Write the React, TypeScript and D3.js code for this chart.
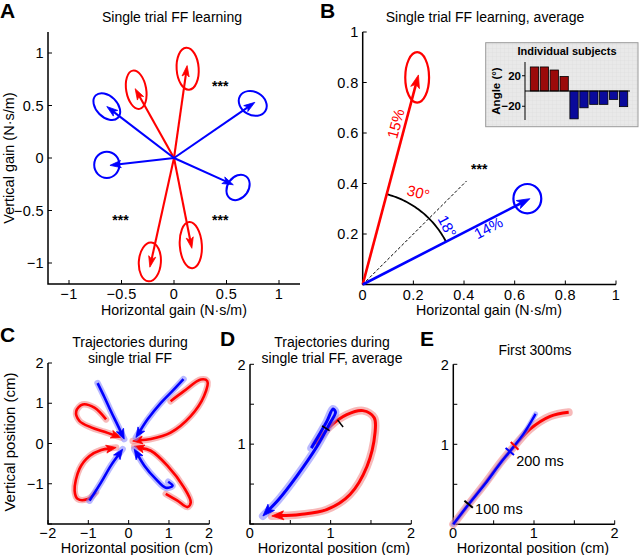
import React from 'react';
import * as d3 from 'd3';

type Pt = [number, number];

const RED = '#ff0000';
const BLUE = '#0000ff';
const RED_HALO = '#f08080';
const BLUE_HALO = '#8080ff';
const FONT = "'Liberation Sans', Arial, Helvetica, sans-serif";

// ---------------- Panel A: single trial FF learning ----------------
const aTicks = [-1, -0.5, 0, 0.5, 1];
const aRedTips: Pt[] = [[0.125, 0.88], [-0.37, 0.66], [-0.23, -1.04], [0.17, -0.86]];
const aRedCenters: Pt[] = [[0.13, 0.85], [-0.36, 0.65], [-0.23, -0.99], [0.16, -0.83]];
const aRedRadii: Pt[] = [[0.105, 0.2], [0.095, 0.185], [0.105, 0.185], [0.105, 0.22]];
const aRedAngles = [-4, -10, 4, -4];
const aBlueTips: Pt[] = [[0.77, 0.53], [-0.64, 0.49], [-0.61, -0.07], [0.565, -0.255]];
const aBlueCenters: Pt[] = [[0.75, 0.52], [-0.64, 0.49], [-0.64, -0.065], [0.61, -0.28]];
const aBlueRadii: Pt[] = [[0.14, 0.11], [0.15, 0.1], [0.12, 0.125], [0.13, 0.1]];
const aBlueAngles = [30, 45, 0, -55];
const aStars: Pt[] = [[0.44, 0.71], [-0.51, -0.56], [0.44, -0.56]];

// ---------------- Panel B: average ----------------
const bXTicks = [0, 0.2, 0.4, 0.6, 0.8, 1];
const bYTicks = [0, 0.2, 0.4, 0.6, 0.8, 1];
const bYLabels = [0.2, 0.4, 0.6, 0.8, 1];
const bRedTip: Pt = [0.22, 0.83];
const bRedCenter: Pt = [0.215, 0.82];
const bRedRadius: Pt = [0.047, 0.1];
const bBlueTip: Pt = [0.66, 0.34];
const bBlueCenter: Pt = [0.65, 0.34];
const bBlueRadius: Pt = [0.055, 0.058];
const bDiagEnd: Pt = [0.41, 0.41];
const bArcRadius = 0.37;
const bStar: Pt = [0.46, 0.47];

// inset: individual subjects
const subjects = ['1', '2', '3', '4', '5', '6', '7', '8', '9', '10'];
const subjectAngles = [31.5, 31.5, 27.5, 19, -36.5, -22, -17.5, -17.5, -11, -20.5];
const insetTicks = [20, -20];

// ---------------- Panel C: trajectories ----------------
const cTicks = [-2, -1, 0, 1, 2];
const cYLabels = [-1, 0, 1, 2];
const cBlueUL: Pt[] = [[-0.77, 1.5], [-0.6, 1.15], [-0.44, 0.8], [-0.27, 0.45], [-0.11, 0.11]];
const cRedUL: Pt[] = [[-0.56, 0.6], [-0.85, 0.89], [-1.14, 0.97], [-1.3, 0.8], [-1.22, 0.56], [-0.93, 0.4], [-0.6, 0.29], [-0.19, 0.15]];
const cBlueUR: Pt[] = [[1.36, 1.6], [1.1, 1.32], [0.8, 1.01], [0.47, 0.6], [0.18, 0.15]];
const cRedUR: Pt[] = [[1.04, 1.05], [1.37, 1.3], [1.79, 1.59], [1.95, 1.55], [1.87, 1.18], [1.54, 0.68], [1.04, 0.27], [0.55, 0.11], [0.1, 0.06]];
const cBlueLL: Pt[] = [[-0.97, -1.42], [-0.68, -0.96], [-0.44, -0.55], [-0.15, -0.14]];
const cRedLL: Pt[] = [[-0.81, -1.21], [-1.01, -1.38], [-1.26, -1.38], [-1.34, -1.17], [-1.22, -0.63], [-0.97, -0.31], [-0.68, -0.16], [-0.31, -0.1]];
const cBlueLR: Pt[] = [[0.98, -0.95], [1.09, -1.05], [0.92, -1.1], [0.67, -0.88], [0.39, -0.55], [0.14, -0.14]];
const cRedLR: Pt[] = [[0.92, -1.25], [1.21, -1.42], [1.46, -1.58], [1.54, -1.46], [1.37, -1.09], [0.96, -0.55], [0.55, -0.18], [0.14, -0.07]];

// ---------------- Panel D: average trajectory ----------------
const dTicks = [0, 0.5, 1, 1.5, 2];
const dXLabels = [0, 1, 2];
const dYLabels = [1, 2];
const dBlue: Pt[] = [[0.76, 0.95], [0.95, 1.28], [1.03, 1.44], [1.06, 1.4], [0.99, 1.26], [0.83, 0.97], [0.58, 0.6], [0.35, 0.3], [0.16, 0.1]];
const dRed: Pt[] = [[0.81, 1.0], [0.99, 1.22], [1.2, 1.37], [1.4, 1.42], [1.54, 1.33], [1.55, 1.14], [1.45, 0.72], [1.24, 0.37], [0.95, 0.18], [0.62, 0.12], [0.27, 0.1]];
const dMarks: { p: Pt; angle: number }[] = [{ p: [0.94, 1.2], angle: 32 }, { p: [1.12, 1.26], angle: 52 }];

// ---------------- Panel E: first 300 ms ----------------
const eRed: Pt[] = [[0, 0], [0.19, 0.25], [0.4, 0.52], [0.6, 0.79], [0.76, 0.98], [0.95, 1.19], [1.2, 1.35], [1.43, 1.4]];
const eBlue: Pt[] = [[0, 0], [0.19, 0.25], [0.39, 0.5], [0.58, 0.76], [0.7, 0.91], [0.87, 1.13], [1.02, 1.38]];
const eMarks: { p: Pt; angle: number; color: string }[] = [
  { p: [0.19, 0.25], angle: 40, color: '#000' },
  { p: [0.76, 0.98], angle: 45, color: RED },
  { p: [0.7, 0.91], angle: 40, color: BLUE },
];
const eMarkLabels: { p: Pt; text: string }[] = [
  { p: [0.27, 0.13], text: '100 ms' },
  { p: [0.78, 0.73], text: '200 ms' },
];

// ---------------- helpers ----------------
const fmt = (v: number) => (v < 0 ? '\u2212' : '') + String(Math.abs(v));
const lineGen = d3.line<Pt>().curve(d3.curveCatmullRom.alpha(0.5));

function headPath(tip: Pt, from: Pt, L: number, W: number): string {
  const dx = tip[0] - from[0];
  const dy = tip[1] - from[1];
  const len = Math.hypot(dx, dy) || 1;
  const ux = dx / len, uy = dy / len;
  const nx = -uy, ny = ux;
  const bx = tip[0] - ux * L, by = tip[1] - uy * L;
  const nxp = tip[0] - ux * L * 0.75, nyp = tip[1] - uy * L * 0.75;
  return `M${tip[0]},${tip[1]}L${bx + nx * W},${by + ny * W}L${nxp},${nyp}L${bx - nx * W},${by - ny * W}Z`;
}

type Scale = d3.ScaleLinear<number, number>;

function Axes(props: {
  x: Scale; y: Scale; xTicks: number[]; yTicks: number[];
  xLabels: number[]; yLabels: number[]; off?: number;
}) {
  const { x, y, xTicks, yTicks, xLabels, yLabels } = props;
  const off = props.off ?? 15;
  const [x0, x1] = x.range();
  const [y0, y1] = y.range();
  const tl = 4;
  return (
    <g fontFamily={FONT} fontSize={14.5} fill="#000">
      <path d={`M${x0},${y1}V${y0}H${x1}`} fill="none" stroke="#000" strokeWidth={1.5} />
      {xTicks.map((t) => (
        <line key={'xt' + t} x1={x(t)} x2={x(t)} y1={y0} y2={y0 - tl} stroke="#000" strokeWidth={1} />
      ))}
      {yTicks.map((t) => (
        <line key={'yt' + t} x1={x0} x2={x0 + tl} y1={y(t)} y2={y(t)} stroke="#000" strokeWidth={1} />
      ))}
      {xLabels.map((t) => (
        <text key={'xl' + t} x={x(t)} y={y0 + off} textAnchor="middle" letterSpacing={0.4}>{fmt(t)}</text>
      ))}
      {yLabels.map((t) => (
        <text key={'yl' + t} x={x0 - 4} y={y(t) + 5.2} textAnchor="end" letterSpacing={0.4}>{fmt(t)}</text>
      ))}
    </g>
  );
}

function Traj(props: { pts: Pt[]; color: string; halo: string; w?: number; hw?: number; head?: boolean; L?: number; W?: number }) {
  const { pts, color, halo } = props;
  const w = props.w ?? 3;
  const hw = props.hw ?? 7;
  const L = props.L ?? 10;
  const W = props.W ?? 4;
  const head = props.head ?? true;
  const tip = pts[pts.length - 1];
  const prev = pts[pts.length - 2];
  let linePts = pts;
  if (head) {
    const dx = tip[0] - prev[0], dy = tip[1] - prev[1];
    const len = Math.hypot(dx, dy) || 1;
    const end: Pt = [tip[0] - (dx / len) * L * 0.7, tip[1] - (dy / len) * L * 0.7];
    linePts = [...pts.slice(0, -1), end];
  }
  return (
    <g>
      <path d={lineGen(pts) || ''} fill="none" stroke={halo} strokeOpacity={0.55} strokeWidth={hw} strokeLinecap="round" strokeLinejoin="round" />
      <path d={lineGen(linePts) || ''} fill="none" stroke={color} strokeWidth={w} strokeLinecap="butt" strokeLinejoin="round" />
      {head && <path d={headPath(tip, prev, L, W)} fill={color} stroke={color} strokeWidth={0.8} strokeLinejoin="miter" />}
    </g>
  );
}

function Mark(props: { c: Pt; angle: number; len: number; color: string; w?: number }) {
  const { c, angle, len, color } = props;
  const a = (angle * Math.PI) / 180;
  const dx = (Math.cos(a) * len) / 2, dy = (Math.sin(a) * len) / 2;
  return <line x1={c[0] - dx} y1={c[1] - dy} x2={c[0] + dx} y2={c[1] + dy} stroke={color} strokeWidth={props.w ?? 1.6} />;
}

function PanelLetter(props: { x: number; y: number; t: string }) {
  return <text x={props.x} y={props.y} fontFamily={FONT} fontWeight="bold" fontSize={21}>{props.t}</text>;
}

export default function App() {
  // Panel A scales
  const ax = d3.scaleLinear().domain([-1.2, 1.2]).range([48, 300]);
  const ay = d3.scaleLinear().domain([-1.2, 1.2]).range([284, 32]);
  const asx = (ax(1) - ax(0));
  const asy = (ay(0) - ay(1));
  const aO: Pt = [ax(0), ay(0)];

  // Panel B scales
  const bx = d3.scaleLinear().domain([0, 1]).range([362.7, 616]);
  const by = d3.scaleLinear().domain([0, 1]).range([284.5, 32]);
  const bO: Pt = [bx(0), by(0)];
  const bsx = bx(1) - bx(0);
  const bsy = by(0) - by(1);
  const angRed = Math.atan2(bRedTip[1], bRedTip[0]);
  const angBlue = Math.atan2(bBlueTip[1], bBlueTip[0]);
  const arcPts: Pt[] = d3.range(0, 41).map((i) => {
    const a = angBlue + ((angRed - angBlue) * i) / 40;
    return [bx(bArcRadius * Math.cos(a)), by(bArcRadius * Math.sin(a))];
  });

  // inset scales
  const ix = d3.scaleBand<string>().domain(subjects).range([529.5, 628.5]).paddingInner(0.16).paddingOuter(0.08);
  const iy = d3.scaleLinear().domain([-38, 38]).range([120, 62]);

  // Panel C, D, E scales
  const cx = d3.scaleLinear().domain([-2, 2]).range([48, 209.3]);
  const cy = d3.scaleLinear().domain([-2, 2]).range([524, 363]);
  const dx = d3.scaleLinear().domain([0, 2]).range([250, 411.3]);
  const dy = d3.scaleLinear().domain([0, 2]).range([524, 364.3]);
  const ex = d3.scaleLinear().domain([0, 2]).range([453.3, 614.7]);
  const ey = d3.scaleLinear().domain([0, 2]).range([524.3, 364.3]);

  const toC = (p: Pt): Pt => [cx(p[0]), cy(p[1])];
  const toD = (p: Pt): Pt => [dx(p[0]), dy(p[1])];
  const toE = (p: Pt): Pt => [ex(p[0]), ey(p[1])];

  const starBaseline = 8;
  const lowOff = 13.5;

  return (
    <svg width={640} height={555} viewBox="0 0 640 555" style={{ position: 'absolute', left: 0, top: 0, background: '#fff' }}>
      <defs>
        <pattern id="insetGrid" width={4} height={4} patternUnits="userSpaceOnUse">
          <rect width={4} height={4} fill="#e9e9e9" />
          <path d="M0,0H4M0,0V4" stroke="#dadada" strokeWidth={0.6} />
        </pattern>
      </defs>
      <rect x={0} y={0} width={640} height={555} fill="#fff" />

      {/* ================= Panel A ================= */}
      <PanelLetter x={0} y={18} t="A" />
      <text x={172} y={22} textAnchor="middle" fontFamily={FONT} fontSize={14}>Single trial FF learning</text>
      <Axes x={ax} y={ay} xTicks={aTicks} yTicks={aTicks} xLabels={aTicks} yLabels={aTicks} />
      <text x={174} y={314.5} textAnchor="middle" fontFamily={FONT} fontSize={14.2}>Horizontal gain (N·s/m)</text>
      <text transform={`translate(14,158) rotate(-90)`} textAnchor="middle" fontFamily={FONT} fontSize={14.5}>Vertical gain (N·s/m)</text>
      {aRedCenters.map((c, i) => (
        <ellipse key={'are' + i} cx={ax(c[0])} cy={ay(c[1])} rx={aRedRadii[i][0] * asx} ry={aRedRadii[i][1] * asy}
          transform={`rotate(${aRedAngles[i]} ${ax(c[0])} ${ay(c[1])})`} fill="none" stroke={RED} strokeWidth={2} />
      ))}
      {aBlueCenters.map((c, i) => (
        <ellipse key={'abe' + i} cx={ax(c[0])} cy={ay(c[1])} rx={aBlueRadii[i][0] * asx} ry={aBlueRadii[i][1] * asy}
          transform={`rotate(${aBlueAngles[i]} ${ax(c[0])} ${ay(c[1])})`} fill="none" stroke={BLUE} strokeWidth={2} />
      ))}
      {[...aRedTips.map((t) => ({ t, c: RED })), ...aBlueTips.map((t) => ({ t, c: BLUE }))].map((o, i) => {
        const tip: Pt = [ax(o.t[0]), ay(o.t[1])];
        const ddx = tip[0] - aO[0], ddy = tip[1] - aO[1];
        const len = Math.hypot(ddx, ddy);
        const end: Pt = [tip[0] - (ddx / len) * 7, tip[1] - (ddy / len) * 7];
        return (
          <g key={'aa' + i}>
            <line x1={aO[0]} y1={aO[1]} x2={end[0]} y2={end[1]} stroke={o.c} strokeWidth={2.1} />
            <path d={headPath(tip, aO, 11, 3.6)} fill={o.c} stroke={o.c} strokeWidth={0.8} />
          </g>
        );
      })}
      {aStars.map((s, i) => (
        <text key={'as' + i} x={ax(s[0])} y={ay(s[1]) + starBaseline} textAnchor="middle" fontFamily={FONT} fontSize={14} fontWeight="bold">***</text>
      ))}

      {/* ================= Panel B ================= */}
      <PanelLetter x={320} y={18} t="B" />
      <text x={485} y={22} textAnchor="middle" fontFamily={FONT} fontSize={14}>Single trial FF learning, average</text>
      <Axes x={bx} y={by} xTicks={bXTicks} yTicks={bYTicks} xLabels={bXTicks} yLabels={bYLabels} />
      <text x={489} y={314.5} textAnchor="middle" fontFamily={FONT} fontSize={14.2}>Horizontal gain (N·s/m)</text>
      <line x1={bO[0]} y1={bO[1]} x2={bx(bDiagEnd[0])} y2={by(bDiagEnd[1])} stroke="#000" strokeWidth={1} strokeDasharray="3,2" />
      <path d={d3.line<Pt>()(arcPts) || ''} fill="none" stroke="#000" strokeWidth={1.8} />
      <ellipse cx={bx(bRedCenter[0])} cy={by(bRedCenter[1])} rx={bRedRadius[0] * bsx} ry={bRedRadius[1] * bsy} fill="none" stroke={RED} strokeWidth={2.2} />
      <ellipse cx={bx(bBlueCenter[0])} cy={by(bBlueCenter[1])} rx={bBlueRadius[0] * bsx} ry={bBlueRadius[1] * bsy} fill="none" stroke={BLUE} strokeWidth={2.2} />
      {[{ t: bRedTip, c: RED }, { t: bBlueTip, c: BLUE }].map((o, i) => {
        const tip: Pt = [bx(o.t[0]), by(o.t[1])];
        const ddx = tip[0] - bO[0], ddy = tip[1] - bO[1];
        const len = Math.hypot(ddx, ddy);
        const end: Pt = [tip[0] - (ddx / len) * 9, tip[1] - (ddy / len) * 9];
        return (
          <g key={'ba' + i}>
            <line x1={bO[0]} y1={bO[1]} x2={end[0]} y2={end[1]} stroke={o.c} strokeWidth={2.6} />
            <path d={headPath(tip, bO, 13, 4.5)} fill={o.c} stroke={o.c} strokeWidth={0.8} />
          </g>
        );
      })}
      <text transform={`translate(397,124) rotate(${-(angRed * 180) / Math.PI})`} textAnchor="middle" dominantBaseline="middle" fontFamily={FONT} fontSize={15} fill={RED}>15%</text>
      <text transform={`translate(489,229) rotate(${-(angBlue * 180) / Math.PI})`} textAnchor="middle" dominantBaseline="middle" fontFamily={FONT} fontSize={15} fill={BLUE}>14%</text>
      <text transform={`translate(418,194) rotate(14)`} textAnchor="middle" dominantBaseline="middle" fontFamily={FONT} fontSize={15} fill={RED}>30°</text>
      <text transform={`translate(446,227) rotate(62)`} textAnchor="middle" dominantBaseline="middle" fontFamily={FONT} fontSize={15} fill={BLUE}>18°</text>
      <text x={bx(bStar[0])} y={by(bStar[1]) + starBaseline} textAnchor="middle" fontFamily={FONT} fontSize={14} fontWeight="bold">***</text>

      {/* inset */}
      <rect x={485.7} y={42.7} width={152.3} height={84} fill="url(#insetGrid)" stroke="#9a9a9a" strokeWidth={1} />
      <text x={567} y={55} textAnchor="middle" fontFamily={FONT} fontSize={11} fontWeight="bold">Individual subjects</text>
      {subjects.map((s, i) => {
        const v = subjectAngles[i];
        return (
          <rect key={'ib' + s} x={ix(s)} width={ix.bandwidth()} y={Math.min(iy(v), iy(0))} height={Math.abs(iy(v) - iy(0))}
            fill={v >= 0 ? '#9b0a0a' : '#0a0a9b'} stroke="#000" strokeWidth={0.8} />
        );
      })}
      <line x1={525} x2={630} y1={iy(0)} y2={iy(0)} stroke="#000" strokeWidth={1} />
      <line x1={525} x2={525} y1={iy(38)} y2={iy(-38)} stroke="#000" strokeWidth={1} />
      {insetTicks.map((t) => (
        <g key={'it' + t}>
          <line x1={522} x2={525} y1={iy(t)} y2={iy(t)} stroke="#000" strokeWidth={1} />
          <text x={521} y={iy(t) + 4} textAnchor="end" fontFamily={FONT} fontSize={11.5} fontWeight="bold">{fmt(t)}</text>
        </g>
      ))}
      <text transform={`translate(500,91) rotate(-90)`} textAnchor="middle" fontFamily={FONT} fontSize={11.5} fontWeight="bold">Angle (°)</text>

      {/* ================= Panel C ================= */}
      <PanelLetter x={0} y={342} t="C" />
      <text x={130} y={346.5} textAnchor="middle" fontFamily={FONT} fontSize={14}>Trajectories during</text>
      <text x={130} y={362.5} textAnchor="middle" fontFamily={FONT} fontSize={14}>single trial FF</text>
      <Axes x={cx} y={cy} xTicks={cTicks} yTicks={cTicks} xLabels={cTicks} yLabels={cYLabels} off={lowOff} />
      <text x={137} y={552.5} textAnchor="middle" fontFamily={FONT} fontSize={14.5}>Horizontal position (cm)</text>
      <text transform={`translate(15,442) rotate(-90)`} textAnchor="middle" fontFamily={FONT} fontSize={15}>Vertical position (cm)</text>
      {[cRedUL, cRedUR, cRedLL, cRedLR].map((p, i) => (
        <Traj key={'cr' + i} pts={p.map(toC)} color={RED} halo={RED_HALO} w={2.6} hw={6.5} L={10} W={4} />
      ))}
      {[cBlueUL, cBlueUR, cBlueLL, cBlueLR].map((p, i) => (
        <Traj key={'cb' + i} pts={p.map(toC)} color={BLUE} halo={BLUE_HALO} w={2.6} hw={6.5} L={10} W={4} />
      ))}

      {/* ================= Panel D ================= */}
      <PanelLetter x={220} y={346} t="D" />
      <text x={332} y={346.5} textAnchor="middle" fontFamily={FONT} fontSize={14}>Trajectories during</text>
      <text x={332} y={362.5} textAnchor="middle" fontFamily={FONT} fontSize={14}>single trial FF, average</text>
      <Axes x={dx} y={dy} xTicks={dTicks} yTicks={dTicks} xLabels={dXLabels} yLabels={dYLabels} off={lowOff} />
      <text x={334} y={552.5} textAnchor="middle" fontFamily={FONT} fontSize={14.5}>Horizontal position (cm)</text>
      <Traj pts={dRed.map(toD)} color={RED} halo={RED_HALO} w={3} hw={8} L={12} W={4.5} />
      <Traj pts={dBlue.map(toD)} color={BLUE} halo={BLUE_HALO} w={3} hw={8} L={12} W={4.5} />
      {dMarks.map((m, i) => (
        <Mark key={'dm' + i} c={toD(m.p)} angle={m.angle} len={9} color="#000" w={1.5} />
      ))}

      {/* ================= Panel E ================= */}
      <PanelLetter x={420} y={346} t="E" />
      <text x={535} y={355} textAnchor="middle" fontFamily={FONT} fontSize={14}>First 300ms</text>
      <Axes x={ex} y={ey} xTicks={dTicks} yTicks={dTicks} xLabels={dXLabels} yLabels={dYLabels} off={lowOff} />
      <text x={533} y={552.5} textAnchor="middle" fontFamily={FONT} fontSize={14.5}>Horizontal position (cm)</text>
      <Traj pts={eRed.map(toE)} color={RED} halo={RED_HALO} w={3} hw={8} head={false} />
      <Traj pts={eBlue.map(toE)} color={BLUE} halo={BLUE_HALO} w={2.4} hw={5} head={false} />
      {eMarks.map((m, i) => (
        <Mark key={'em' + i} c={toE(m.p)} angle={m.angle} len={11} color={m.color} w={2} />
      ))}
      {eMarkLabels.map((m, i) => (
        <text key={'el' + i} x={ex(m.p[0])} y={ey(m.p[1])} fontFamily={FONT} fontSize={14.5}>{m.text}</text>
      ))}
    </svg>
  );
}
